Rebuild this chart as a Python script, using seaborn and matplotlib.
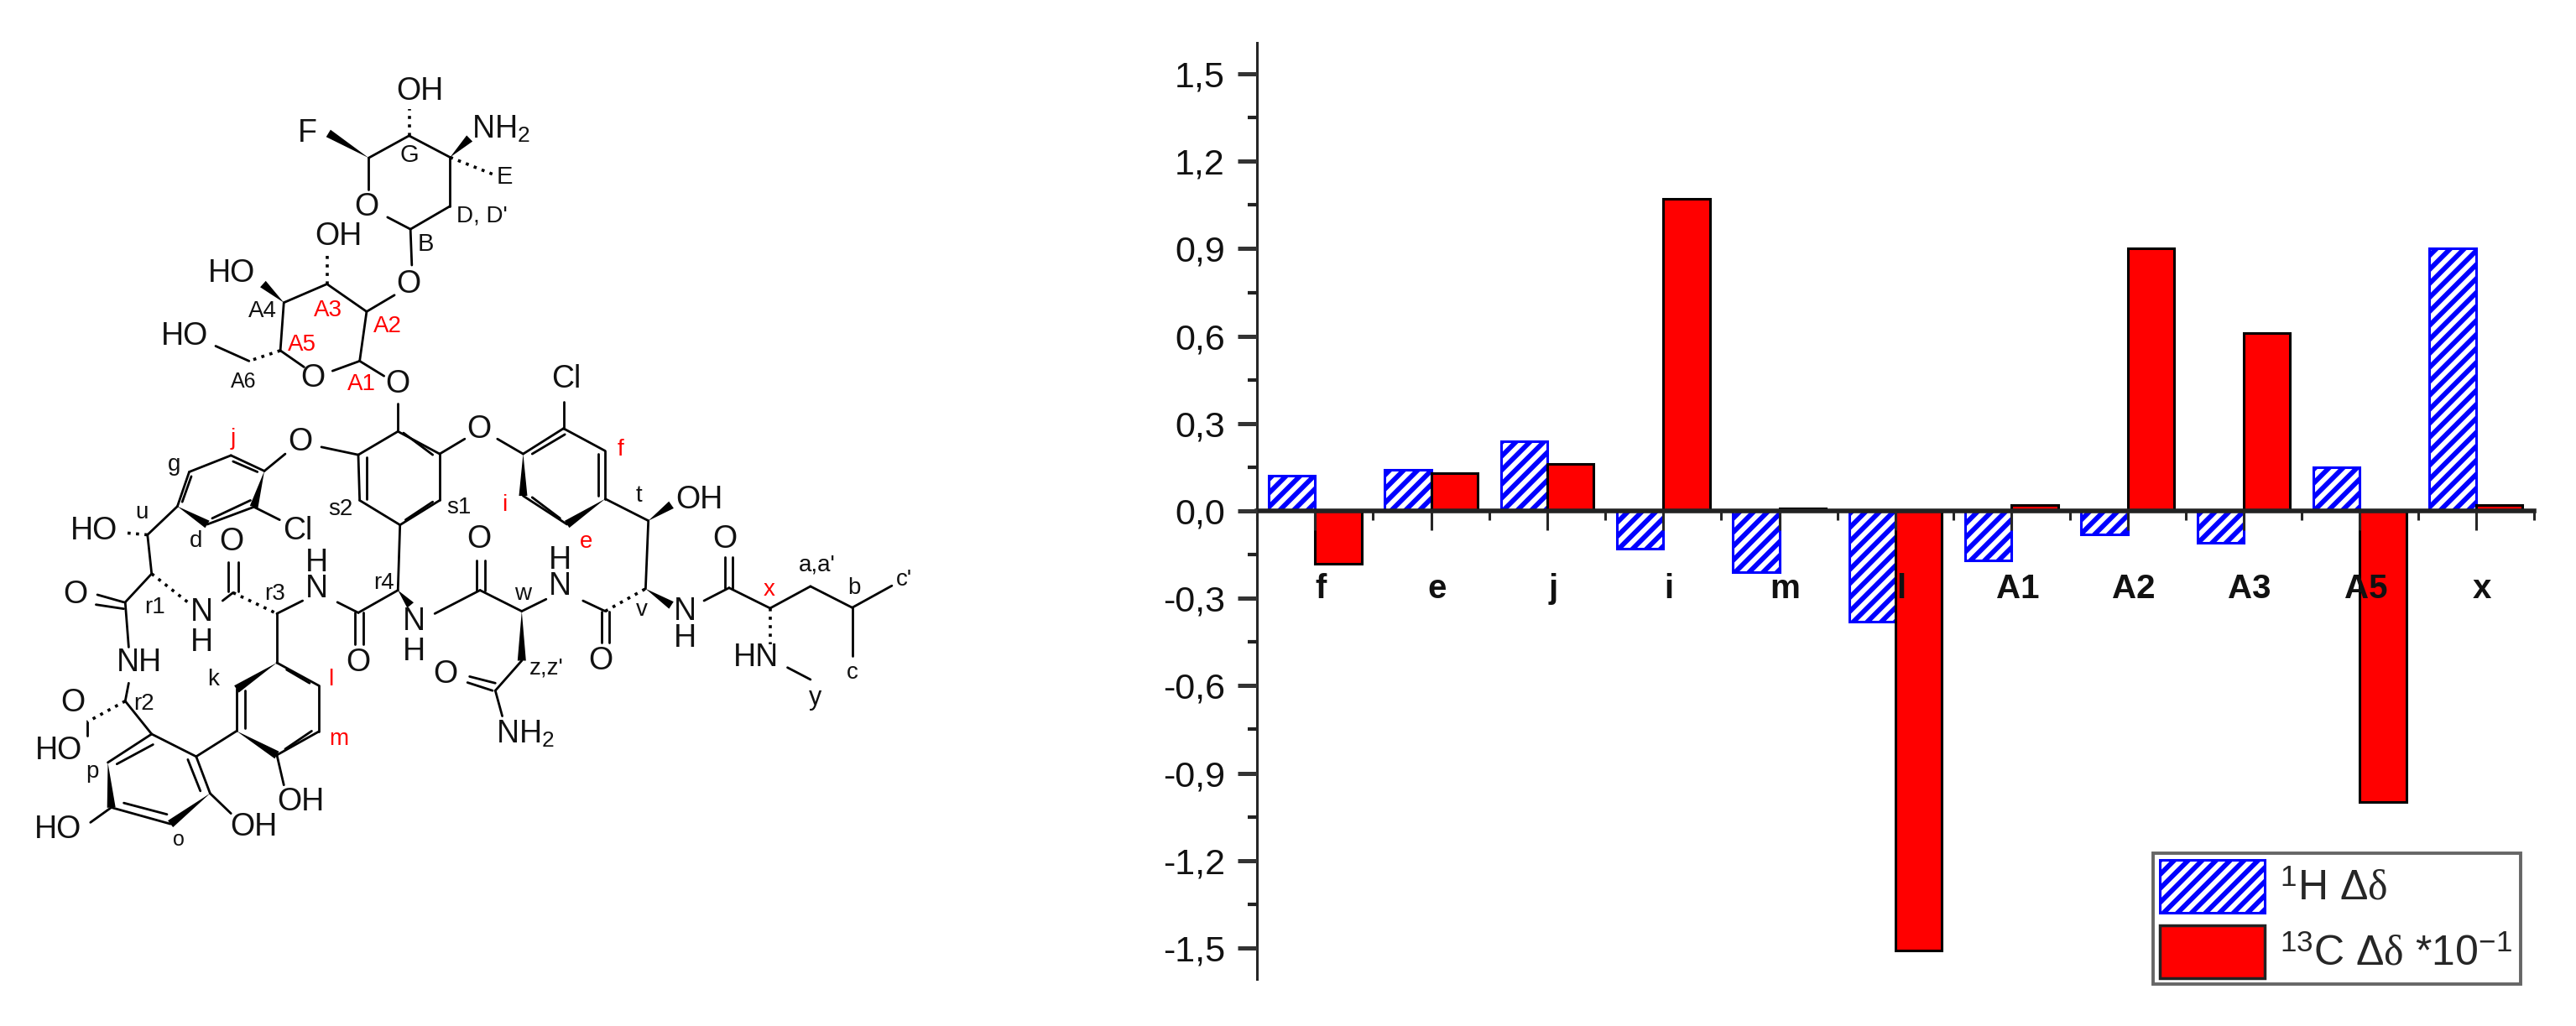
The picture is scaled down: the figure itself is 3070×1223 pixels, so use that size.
import matplotlib
matplotlib.use("Agg")
import matplotlib.pyplot as plt
import matplotlib.patches as mpatches
import matplotlib.transforms as mtrans
import numpy as np
import pandas as pd
import seaborn as sns
from matplotlib.ticker import MultipleLocator

sns.set_style("ticks")
plt.rcParams.update({
    "font.family": ["Liberation Sans", "DejaVu Sans"],
    "mathtext.fontset": "custom",
    "mathtext.rm": "Liberation Sans",
    "mathtext.it": "Liberation Serif",
    "hatch.linewidth": 4.2,
})

# chart data
peaks = ["f", "e", "j", "i", "m", "l", "A1", "A2", "A3", "A5", "x"]
h_shift = [0.12, 0.14, 0.24, -0.13, -0.21, -0.38, -0.17, -0.08, -0.11, 0.15, 0.90]
c_shift = [-0.18, 0.13, 0.16, 1.07, 0.01, -1.51, 0.02, 0.90, 0.61, -1.00, 0.02]
y_ticks = [1.5, 1.2, 0.9, 0.6, 0.3, 0.0, -0.3, -0.6, -0.9, -1.2, -1.5]
y_labels = ["1,5", "1,2", "0,9", "0,6", "0,3", "0,0", "-0,3", "-0,6", "-0,9", "-1,2", "-1,5"]
legend_labels = [r"$^{1}$H $\mathit{\Delta\delta}$", "$^{13}$C $\\mathit{\\Delta\\delta}$ *10$^{-1}$\u00a0"]

# structure drawing, coordinates (crop units, converted below)
upper_bonds = [
    (530, 527, 588, 453), (588, 453, 647, 525), (647, 525, 647, 688), (647, 688, 590, 765),
    (590, 765, 557, 725), (530, 527, 530, 632), (590, 765, 592, 885), (567, 985, 527, 1040),
    (527, 1040, 470, 948), (470, 948, 408, 1010), (408, 1010, 403, 1170), (403, 1170, 437, 1225),
    (478, 1238, 517, 1205), (517, 1205, 527, 1040), (517, 1205, 552, 1255), (572, 1348, 572, 1440),
    (310, 1155, 358, 1205),
]
upper_wedges = [(530, 527, 472, 445), (647, 525, 675, 462), (408, 1010, 378, 948)]
upper_hashes = [(588, 453, 588, 365), (647, 525, 712, 585), (470, 948, 470, 850), (403, 1170, 358, 1205)]
upper_labels = [
    ("OH", 604, 306, 27, "k"), ("F", 442, 446, 27, "k"), ("NH$_2$", 720, 432, 27, "k"),
    ("E", 725, 590, 21, "k"), ("G", 588, 518, 21, "k"), ("O", 527, 692, 27, "k"),
    ("D, D'", 693, 720, 20, "k"), ("B", 612, 815, 21, "k"), ("OH", 487, 790, 27, "k"),
    ("O", 587, 948, 27, "k"), ("HO", 333, 912, 27, "k"), ("A4", 377, 1038, 20, "k"),
    ("A3", 472, 1036, 20, "r"), ("A2", 557, 1090, 20, "r"), ("A5", 434, 1150, 20, "r"),
    ("HO", 265, 1123, 27, "k"), ("A6", 350, 1275, 18, "k"), ("O", 450, 1264, 27, "k"),
    ("A1", 520, 1283, 20, "r"), ("O", 571, 1282, 27, "k"), ("Cl", 814, 1265, 27, "k"),
]
lower_bonds = [
    (572, 40, 632, 115), (632, 115, 632, 270), (632, 270, 575, 352), (575, 352, 517, 270),
    (517, 270, 515, 118), (515, 118, 572, 40), (580, 45, 622, 118), (527, 125, 527, 265),
    (583, 335, 622, 275), (515, 118, 462, 92), (410, 115, 380, 172), (632, 115, 668, 65),
    (715, 65, 752, 115), (810, -60, 810, 30), (752, 115, 810, 30), (810, 30, 870, 105),
    (870, 105, 870, 265), (765, 115, 812, 50), (860, 115, 860, 255), (805, 330, 765, 260),
    (870, 265, 932, 338), (932, 338, 928, 565), (815, 350, 752, 255), (272, 175, 332, 120),
    (332, 120, 380, 172), (365, 292, 298, 350), (255, 290, 272, 175), (335, 140, 370, 175),
    (360, 270, 305, 330), (262, 275, 275, 190), (365, 292, 402, 335), (255, 290, 212, 385),
    (212, 385, 218, 515), (218, 515, 180, 610), (140, 585, 178, 610), (138, 618, 178, 632),
    (180, 610, 185, 760), (185, 880, 180, 940), (180, 940, 218, 1050), (320, 605, 335, 578),
    (328, 475, 328, 575), (342, 475, 342, 575), (398, 648, 435, 605), (485, 610, 515, 645),
    (510, 645, 510, 750), (522, 645, 522, 750), (515, 645, 572, 570), (572, 570, 575, 352),
    (625, 648, 690, 570), (685, 470, 685, 570), (697, 470, 697, 570), (690, 570, 750, 640),
    (750, 640, 785, 600), (838, 605, 870, 640), (865, 640, 865, 745), (876, 640, 876, 745),
    (1012, 605, 1048, 562), (1042, 460, 1042, 562), (1053, 460, 1053, 562), (1048, 562, 1107, 630),
    (1107, 630, 1165, 557), (1165, 557, 1225, 628), (1225, 628, 1282, 555), (1225, 628, 1225, 790),
    (1132, 828, 1165, 868), (750, 805, 712, 905), (675, 858, 712, 880), (672, 878, 708, 905),
    (712, 905, 722, 990), (398, 648, 398, 812), (340, 900, 340, 1040), (398, 1120, 458, 1042),
    (458, 1042, 458, 888), (458, 888, 398, 812), (352, 905, 352, 1030), (412, 835, 445, 880),
    (410, 1100, 448, 1040), (398, 1120, 408, 1220), (340, 1040, 282, 1125), (218, 1050, 282, 1125),
    (282, 1125, 302, 1248), (270, 1135, 288, 1240), (245, 1350, 160, 1295), (178, 1280, 240, 1318),
    (155, 1145, 218, 1050), (168, 1150, 220, 1085), (302, 1248, 332, 1315), (160, 1295, 130, 1345),
    (125, 1010, 125, 1055),
]
lower_wedges = [
    (380, 172, 365, 292), (255, 290, 298, 350), (752, 115, 752, 255), (870, 265, 815, 350),
    (932, 338, 965, 285), (572, 570, 590, 620), (928, 565, 965, 620), (750, 640, 750, 805),
    (398, 812, 340, 900), (340, 1040, 398, 1120), (302, 1248, 245, 1350), (155, 1145, 160, 1295),
]
lower_hashes = [
    (212, 385, 178, 378), (218, 515, 270, 610), (335, 578, 398, 648), (870, 640, 928, 565),
    (1107, 630, 1107, 750), (180, 940, 125, 1010),
]
lower_labels = [
    ("O", 432, 75, 27, "k"), ("O", 688, 35, 27, "k"), ("j", 335, 65, 20, "r"), ("f", 892, 100, 20, "r"),
    ("g", 250, 152, 20, "k"), ("u", 204, 310, 20, "k"), ("s2", 490, 300, 20, "k"), ("s1", 660, 295, 20, "k"),
    ("i", 725, 285, 20, "r"), ("t", 918, 255, 20, "k"), ("OH", 1005, 268, 27, "k"), ("HO", 135, 372, 27, "k"),
    ("Cl", 428, 372, 27, "k"), ("d", 282, 405, 20, "k"), ("O", 333, 408, 27, "k"), ("O", 688, 400, 27, "k"),
    ("e", 842, 408, 20, "r"), ("O", 1042, 400, 27, "k"), ("a,a'", 1175, 485, 20, "k"), ("c'", 1300, 535, 20, "k"),
    ("H", 455, 480, 27, "k"), ("H", 805, 470, 27, "k"), ("N", 455, 565, 27, "k"), ("N", 805, 558, 27, "k"),
    ("r4", 552, 545, 20, "k"), ("r3", 395, 582, 20, "k"), ("r1", 222, 628, 20, "k"), ("w", 752, 583, 20, "k"),
    ("v", 922, 635, 20, "k"), ("x", 1106, 567, 20, "r"), ("b", 1228, 563, 20, "k"), ("O", 108, 585, 27, "k"),
    ("N", 290, 645, 27, "k"), ("N", 595, 675, 27, "k"), ("N", 985, 640, 27, "k"), ("H", 290, 745, 27, "k"),
    ("H", 595, 775, 27, "k"), ("H", 985, 730, 27, "k"), ("HN", 1087, 795, 27, "k"), ("NH", 200, 813, 27, "k"),
    ("O", 515, 812, 27, "k"), ("O", 863, 805, 27, "k"), ("z,z'", 785, 830, 20, "k"), ("c", 1225, 845, 20, "k"),
    ("O", 640, 850, 27, "k"), ("k", 306, 868, 20, "k"), ("l", 476, 868, 20, "r"), ("y", 1172, 930, 22, "k"),
    ("O", 105, 945, 27, "k"), ("r2", 207, 950, 20, "k"), ("NH$_2$", 755, 1052, 27, "k"), ("m", 487, 1067, 20, "r"),
    ("HO", 85, 1105, 27, "k"), ("p", 132, 1175, 20, "k"), ("OH", 432, 1278, 27, "k"), ("OH", 365, 1360, 27, "k"),
    ("HO", 83, 1370, 27, "k"), ("o", 257, 1402, 18, "k"),
]

W, H = 3070, 1223
fig = plt.figure(figsize=(W / 100, H / 100), dpi=100, facecolor="white")
ax = fig.add_axes([1498 / W, 1 - 1167 / H, (3020 - 1498) / W, (1167 - 51) / H])

df = pd.DataFrame({
    "peak": peaks * 2,
    "shift": h_shift + c_shift,
    "nucleus": ["H"] * len(peaks) + ["C"] * len(peaks),
})
sns.barplot(data=df, x="peak", y="shift", hue="nucleus", palette=["#0000ff", "#ff0000"], width=0.8, gap=0,
            saturation=1, edgecolor="black", linewidth=2.2, legend=False, ax=ax)
for bar in ax.containers[0]:
    bar.set_facecolor("white")
    bar.set_edgecolor("#0000ff")
    bar.set_hatch("//")

ax.set_axisbelow(False)  # ticks and the l / A5 labels stay on top of the bars
ax.set_xlim(-0.5, 10.5)
ax.set_ylim(-1.607, 1.607)
ax.set_xlabel("")
ax.set_ylabel("")
ax.spines["top"].set_visible(False)
ax.spines["right"].set_visible(False)
ax.spines["left"].set_linewidth(2.2)
ax.spines["bottom"].set_position(("data", 0))
ax.spines["bottom"].set_linewidth(4)
ax.spines["bottom"].set_color("#222222")

ax.set_yticks(y_ticks)
ax.set_yticklabels(y_labels, fontsize=31, color="#111111")
ax.yaxis.set_minor_locator(MultipleLocator(0.15))
ax.tick_params(axis="y", which="major", length=16.5, width=3.6, pad=11, color="#333333")
ax.tick_params(axis="y", which="minor", length=8, width=3, color="#222222")
ax.xaxis.set_minor_locator(MultipleLocator(0.5))
ax.tick_params(axis="x", which="major", length=16.5, width=2.2, pad=37, labelsize=29)
ax.tick_params(axis="x", which="minor", length=8, width=2.2)
shift_right = mtrans.ScaledTranslation(7 / 100, 0, fig.dpi_scale_trans)
for lab in ax.get_xticklabels():
    lab.set_transform(lab.get_transform() + shift_right)
    lab.set_fontweight("bold")
    lab.set_color("#111111")

handles = [
    mpatches.Patch(facecolor="white", edgecolor="#0000ff", hatch="//", linewidth=2.2),
    mpatches.Patch(facecolor="#ff0000", edgecolor="#222222", linewidth=2.5),
]
leg = ax.legend(handles, legend_labels, loc="lower right", bbox_to_anchor=(3004 / W, 1 - 1173 / H),
                bbox_transform=fig.transFigure, fontsize=36, fancybox=False, framealpha=1, edgecolor="#666666",
                borderpad=0.15, borderaxespad=0, handlelength=2.5, handleheight=1.56, handletextpad=0.36,
                labelspacing=0.3)
leg.get_frame().set_linewidth(2.8)

# structure sits on a pixel-sized overlay axes
mol = fig.add_axes([0, 0, 1, 1], facecolor="none")
mol.set_xlim(0, W)
mol.set_ylim(H, 0)
mol.axis("off")
mol.set_zorder(-1)


def draw_part(bonds, wedges, hashes, labels, y0):
    sx, sy = 1300 / 1568, 560 / 1568
    for x1, y1, x2, y2 in bonds:
        mol.plot([x1 * sx, x2 * sx], [y1 * sy + y0, y2 * sy + y0], color="black", lw=2, solid_capstyle="round")
    for x1, y1, x2, y2 in hashes:
        mol.plot([x1 * sx, x2 * sx], [y1 * sy + y0, y2 * sy + y0], color="black", lw=2.6, ls=(0, (1, 1.8)))
    for x1, y1, x2, y2 in wedges:
        p1 = np.array([x1 * sx, y1 * sy + y0])
        p2 = np.array([x2 * sx, y2 * sy + y0])
        n = np.array([p2[1] - p1[1], p1[0] - p2[0]])
        n = n / np.hypot(*n) * 5
        mol.fill([p1[0], p2[0] + n[0], p2[0] - n[0]], [p1[1], p2[1] + n[1], p2[1] - n[1]], color="black", lw=0)
    for text, x, y, size, col in labels:
        mol.text(x * sx, y * sy + y0, text, fontsize=size, ha="center", va="center",
                 color="#ff0000" if col == "r" else "#111111")


draw_part(upper_bonds, upper_wedges, upper_hashes, upper_labels, 0)
draw_part(lower_bonds, lower_wedges, lower_hashes, lower_labels, 500)

fig.savefig("out.png", dpi=100, facecolor="white")
